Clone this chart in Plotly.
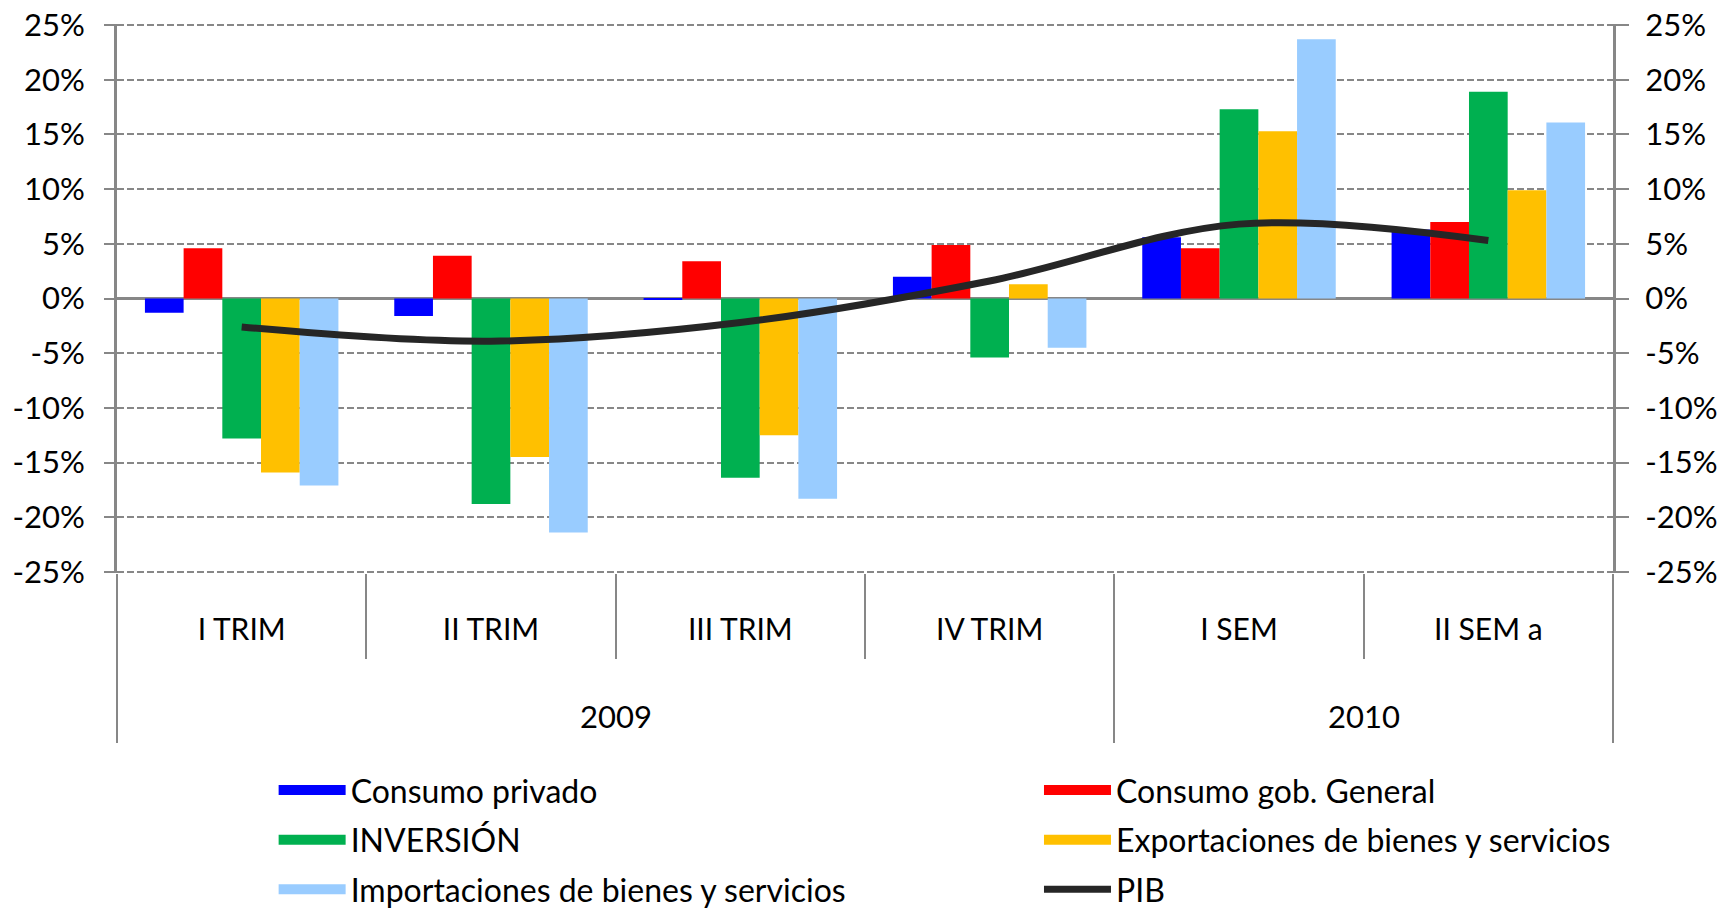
import plotly.graph_objects as go

categories = ["I TRIM", "II TRIM", "III TRIM", "IV TRIM", "I SEM", "II SEM a"]
years = ["2009", "2010"]
year_positions = [1.5, 4.5]

consumo_privado = [-1.3, -1.6, -0.1, 2.0, 5.6, 6.3]
consumo_gob = [4.6, 3.9, 3.4, 4.9, 4.6, 7.0]
inversion = [-12.8, -18.8, -16.4, -5.4, 17.3, 18.9]
exportaciones = [-15.9, -14.5, -12.5, 1.3, 15.3, 9.9]
importaciones = [-17.1, -21.4, -18.3, -4.5, 23.7, 16.1]
pib = [-2.6, -3.9, -2.2, 1.6, 6.8, 5.3]

y_tickvals = [-25, -20, -15, -10, -5, 0, 5, 10, 15, 20, 25]
y_ticktext = ["-25%", "-20%", "-15%", "-10%", "-5%", "0%", "5%", "10%", "15%", "20%", "25%"]
y_range = [-25.1, 25.1]

FONT = "Lato, Open Sans, sans-serif"
GRID = "#878787"

fig = go.Figure()
bar_series = [
    ("Consumo privado", consumo_privado, "#0000FF", "legend"),
    ("Consumo gob. General", consumo_gob, "#FF0000", "legend2"),
    ("INVERSIÓN", inversion, "#00B050", "legend"),
    ("Exportaciones de bienes y servicios", exportaciones, "#FFC000", "legend2"),
    ("Importaciones de bienes y servicios", importaciones, "#99CCFF", "legend"),
]
for name, vals, col, leg in bar_series:
    fig.add_trace(go.Bar(x=categories, y=vals, name=name, showlegend=False, legendgroup=name,
                         marker=dict(color=col, line=dict(width=0))))

# legend entries drawn as wide swatches (legend only, no data)
for name, vals, col, leg in bar_series:
    fig.add_trace(go.Scatter(x=[categories[0]], y=[None], name=name, legend=leg, legendgroup=name,
                             mode="lines", line=dict(color=col, width=19), hoverinfo="skip"))

fig.add_trace(go.Scatter(x=categories, y=pib, name="PIB", mode="lines", legend="legend2",
                         legendgroup="PIB",
                         line=dict(color="#262626", width=7, shape="spline", smoothing=1)))

# helper traces to host the divider axes
fig.add_trace(go.Scatter(x=[], y=[], xaxis="x2", yaxis="y", showlegend=False, hoverinfo="skip"))
fig.add_trace(go.Scatter(x=[], y=[], xaxis="x3", yaxis="y", showlegend=False, hoverinfo="skip"))
fig.add_trace(go.Scatter(x=[], y=[], xaxis="x", yaxis="y2", showlegend=False, hoverinfo="skip"))

n = len(categories)
inner_bounds = [i - 0.5 for i in range(n + 1)]
outer_bounds = [-0.5, 3.5, n - 0.5]

for yr, pos in zip(years, year_positions):
    fig.add_annotation(x=pos, xref="x", y=-0.2597, yref="paper", text=yr, showarrow=False,
                       yanchor="middle", font=dict(family=FONT, size=31, color="black"))

legend_common = dict(orientation="v", xanchor="left", yanchor="top", y=-0.3457,
                     traceorder="grouped", tracegroupgap=5, itemwidth=67,
                     font=dict(family=FONT, size=32, color="black"), bgcolor="rgba(0,0,0,0)")

fig.update_layout(
    template="none",
    width=1725, height=910,
    margin=dict(l=117, r=112, t=24, b=337, autoexpand=False),
    paper_bgcolor="white", plot_bgcolor="white",
    barmode="group", bargap=0.224, bargroupgap=0,
    font=dict(family=FONT, size=32, color="black"),
    showlegend=True,
    legend=dict(x=0.1047, **legend_common),
    legend2=dict(x=0.6163, **legend_common),
    xaxis=dict(type="category", range=[-0.5, n - 0.5], showgrid=False, zeroline=False,
               showline=False, ticks="", ticklabelstandoff=36,
               tickfont=dict(family=FONT, size=30, color="black")),
    xaxis2=dict(overlaying="x", anchor="y", side="bottom", range=[-0.5, n - 0.5],
                tickmode="array", tickvals=inner_bounds, showticklabels=False,
                ticks="outside", ticklen=85, tickwidth=2, tickcolor=GRID,
                showgrid=False, zeroline=False, showline=False),
    xaxis3=dict(overlaying="x", anchor="y", side="bottom", range=[-0.5, n - 0.5],
                tickmode="array", tickvals=outer_bounds, showticklabels=False,
                ticks="outside", ticklen=169, tickwidth=2, tickcolor=GRID,
                showgrid=False, zeroline=False, showline=False),
    yaxis=dict(range=y_range, tickmode="array", tickvals=y_tickvals, ticktext=y_ticktext,
               showgrid=True, gridcolor=GRID, gridwidth=2, griddash="7px,3px",
               zeroline=True, zerolinecolor=GRID, zerolinewidth=3,
               showline=True, linecolor=GRID, linewidth=3,
               ticks="outside", ticklen=10, tickwidth=2, tickcolor=GRID,
               ticklabeloverflow="allow",
               ticklabelstandoff=13, tickfont=dict(family=FONT, size=31, color="black")),
    yaxis2=dict(overlaying="y", side="right", matches="y", range=y_range, anchor="x",
                tickmode="array", tickvals=y_tickvals, ticktext=y_ticktext,
                showgrid=False, zeroline=False,
                showline=True, linecolor=GRID, linewidth=3,
                ticks="outside", ticklen=13, tickwidth=2, tickcolor=GRID,
                ticklabeloverflow="allow",
                ticklabelstandoff=10, tickfont=dict(family=FONT, size=31, color="black")),
)

fig.write_html("out.html", config={"displayModeBar": False},
               post_script="document.body.style.margin='0px';")
